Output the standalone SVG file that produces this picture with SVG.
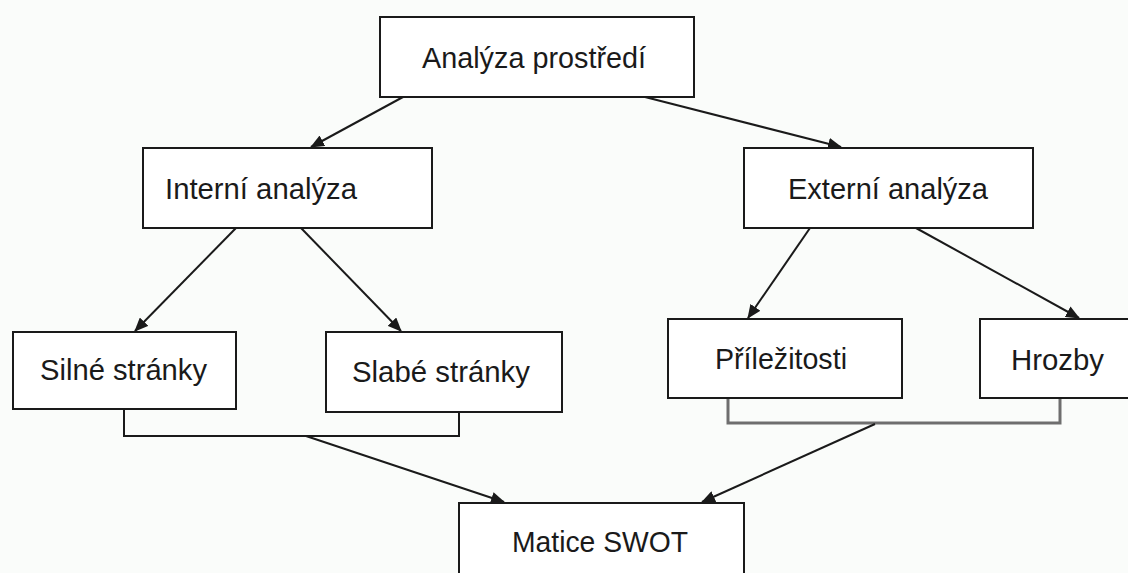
<svg xmlns="http://www.w3.org/2000/svg" width="1128" height="573" viewBox="0 0 1128 573">
<style>
.box{fill:#fff;stroke:#1a1a1a;stroke-width:2}
.lbl{font-family:"Liberation Sans",Arial,sans-serif;font-size:29px;fill:#1a1a1a}
.con{fill:none;stroke:#1a1a1a;stroke-width:2}
.gray{fill:none;stroke:#6e6e6e;stroke-width:3}
</style>
<defs>
<marker id="ah" markerUnits="userSpaceOnUse" markerWidth="14" markerHeight="12" refX="13" refY="6" orient="auto">
<path d="M0,0 L14,6 L0,12 z" fill="#1a1a1a"/>
</marker>
</defs>
<rect width="1128" height="573" fill="#fafcfa"/>
<g id="connectors">
<line class="con" x1="403" y1="97" x2="311" y2="147" marker-end="url(#ah)"/>
<line class="con" x1="645" y1="97" x2="841" y2="147" marker-end="url(#ah)"/>
<line class="con" x1="236" y1="228" x2="135" y2="331" marker-end="url(#ah)"/>
<line class="con" x1="301" y1="228" x2="401" y2="331" marker-end="url(#ah)"/>
<line class="con" x1="810" y1="228" x2="748" y2="318" marker-end="url(#ah)"/>
<line class="con" x1="916" y1="228" x2="1079" y2="318" marker-end="url(#ah)"/>
<polyline class="con" points="124,409 124,436 459,436 459,412"/>
<line class="con" x1="306" y1="436" x2="504" y2="502" marker-end="url(#ah)"/>
<polyline class="gray" points="728,398 728,423 1060,423 1060,398"/>
<line class="con" x1="875" y1="424" x2="702" y2="502" marker-end="url(#ah)"/>
</g>
<g id="analyza-prostredi">
<rect class="box" x="380" y="17" width="314" height="80"/>
<text class="lbl" x="422" y="68" textLength="224" lengthAdjust="spacingAndGlyphs">Analýza prostředí</text>
</g>
<g id="interni-analyza">
<rect class="box" x="143" y="148" width="289" height="80"/>
<text class="lbl" x="165" y="199" textLength="192" lengthAdjust="spacingAndGlyphs">Interní analýza</text>
</g>
<g id="externi-analyza">
<rect class="box" x="744" y="148" width="289" height="80"/>
<text class="lbl" x="788" y="199" textLength="200" lengthAdjust="spacingAndGlyphs">Externí analýza</text>
</g>
<g id="silne-stranky">
<rect class="box" x="13" y="332" width="223" height="77"/>
<text class="lbl" x="40" y="380" textLength="167" lengthAdjust="spacingAndGlyphs">Silné stránky</text>
</g>
<g id="slabe-stranky">
<rect class="box" x="326" y="332" width="236" height="80"/>
<text class="lbl" x="352" y="382" textLength="178" lengthAdjust="spacingAndGlyphs">Slabé stránky</text>
</g>
<g id="prilezitosti">
<rect class="box" x="668" y="319" width="234" height="79"/>
<text class="lbl" x="715" y="369" textLength="132" lengthAdjust="spacingAndGlyphs">Příležitosti</text>
</g>
<g id="hrozby">
<rect class="box" x="980" y="319" width="160" height="79"/>
<text class="lbl" x="1011" y="370" textLength="93" lengthAdjust="spacingAndGlyphs">Hrozby</text>
</g>
<g id="matice-swot">
<rect class="box" x="459" y="503" width="285" height="90"/>
<text class="lbl" x="512" y="552" textLength="176" lengthAdjust="spacingAndGlyphs">Matice SWOT</text>
</g>
</svg>
